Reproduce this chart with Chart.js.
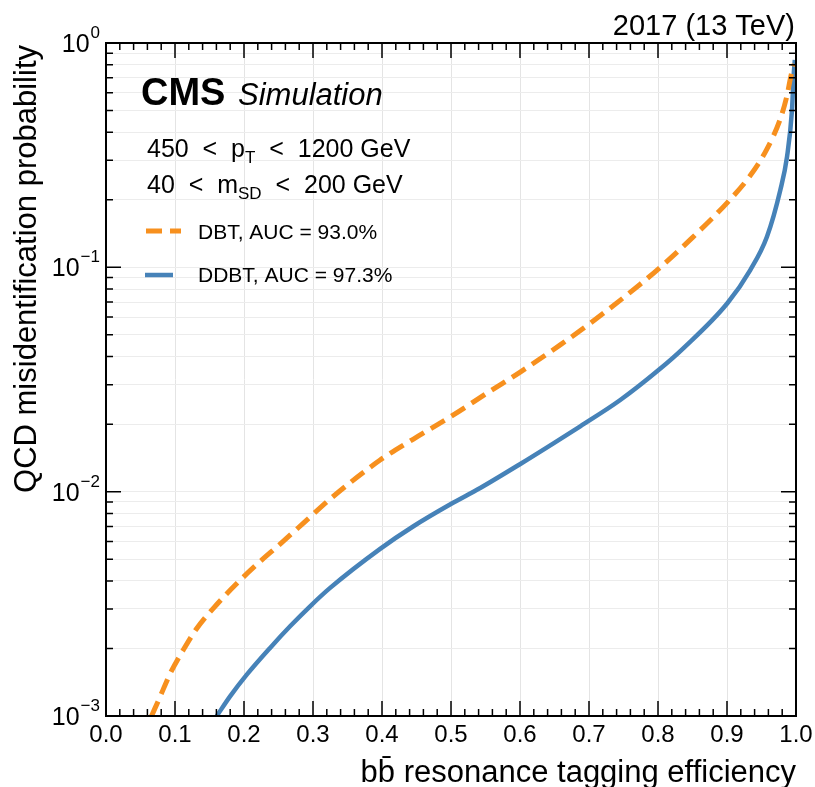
<!DOCTYPE html>
<html>
<head>
<meta charset="utf-8">
<script src="https://cdn.jsdelivr.net/npm/chart.js@4"></script>
<style>
  html, body { margin: 0; padding: 0; background: #fff; }
  #wrap { width: 815px; height: 787px; }
</style>
</head>
<body>
<div id="wrap"><canvas id="roc" width="815" height="787"></canvas></div>
<script>
// Values
const dbtEff = [0.066, 0.0783, 0.0928, 0.1121, 0.1315, 0.1605, 0.1895, 0.2185, 0.2523, 0.2861, 0.3248, 0.3973, 0.4456, 0.4998, 0.5568, 0.6003, 0.6583, 0.7018, 0.7743, 0.8033, 0.8468, 0.9008, 0.9337, 0.958, 0.9773, 0.987, 0.9928, 0.9975];
const dbtMis = [0.00100, 0.001217, 0.001541, 0.001972, 0.002455, 0.003141, 0.003896, 0.004735, 0.005842, 0.00724, 0.009268, 0.01383, 0.01716, 0.02162, 0.02808, 0.03413, 0.04512, 0.05633, 0.0841, 0.1001, 0.1329, 0.1949, 0.2566, 0.3375, 0.4592, 0.584, 0.7167, 0.806];

const ddbtEff = [0.1605, 0.1798, 0.204, 0.2378, 0.2668, 0.2958, 0.3248, 0.3973, 0.4456, 0.4998, 0.5423, 0.5993, 0.6485, 0.6873, 0.7453, 0.8008, 0.837, 0.9008, 0.9337, 0.9579, 0.9773, 0.987, 0.9942, 0.9965, 0.9983];
const ddbtMis = [0.00100, 0.001223, 0.001528, 0.002012, 0.002511, 0.003084, 0.003724, 0.005559, 0.007012, 0.008806, 0.01038, 0.01322, 0.01642, 0.01956, 0.02562, 0.03484, 0.04367, 0.06934, 0.09727, 0.1369, 0.2212, 0.3112, 0.5027, 0.7077, 0.84];

const xTickLabels = ["0.0", "0.1", "0.2", "0.3", "0.4", "0.5", "0.6", "0.7", "0.8", "0.9", "1.0"];
const yTickExps = [0, -1, -2, -3];
const legendLabels = ["DBT, AUC = 93.0%", "DDBT, AUC = 97.3%"];

const ORANGE = "#f7901e";
const BLUE = "#4682b8";
const FONT = "'Liberation Sans', Arial, sans-serif";

function pts(xs, ys) {
  return xs.map((x, i) => ({ x: x, y: ys[i] }));
}

// all 1..9 x 10^k values for the log grid
const yGrid = [];
for (let k = -3; k <= 0; k++) {
  for (let m = 1; m <= 9; m++) {
    const v = m * Math.pow(10, k);
    if (v <= 1.0000001) yGrid.push(v);
  }
}

const decor = {
  id: "decor",
  afterDraw(chart) {
    const ctx = chart.ctx;
    const a = chart.chartArea;
    const xs = chart.scales.x;
    const ys = chart.scales.y;
    ctx.save();

    // frame
    ctx.strokeStyle = "#000";
    ctx.lineWidth = 2;
    ctx.strokeRect(a.left, a.top, a.right - a.left, a.bottom - a.top);

    // inward ticks
    ctx.lineWidth = 1.5;
    ctx.beginPath();
    for (let i = 0; i <= 50; i++) {
      const v = i / 50;
      const px = xs.getPixelForValue(v);
      const len = i % 5 === 0 ? 15 : 7;
      ctx.moveTo(px, a.bottom); ctx.lineTo(px, a.bottom - len);
      ctx.moveTo(px, a.top); ctx.lineTo(px, a.top + len);
    }
    yGrid.forEach((v) => {
      const py = ys.getPixelForValue(v);
      const major = Math.abs(Math.log10(v) - Math.round(Math.log10(v))) < 1e-6;
      const len = major ? 15 : 7;
      ctx.moveTo(a.left, py); ctx.lineTo(a.left + len, py);
      ctx.moveTo(a.right, py); ctx.lineTo(a.right - len, py);
    });
    ctx.stroke();

    ctx.fillStyle = "#000";

    // x tick labels
    ctx.font = "24px " + FONT;
    ctx.textAlign = "center";
    ctx.textBaseline = "alphabetic";
    xTickLabels.forEach((t, i) => {
      ctx.fillText(t, xs.getPixelForValue(i / 10), a.bottom + 26);
    });

    // y tick labels 10^k
    yTickExps.forEach((e) => {
      const py = ys.getPixelForValue(Math.pow(10, e));
      const exp = e === 0 ? "0" : "\u2212" + Math.abs(e);
      ctx.font = "17px " + FONT;
      const ew = ctx.measureText(exp).width;
      ctx.textAlign = "left";
      const right = 100;
      ctx.fillText(exp, right - ew, py - 5);
      ctx.font = "25px " + FONT;
      ctx.textAlign = "right";
      ctx.fillText("10", right - ew - 1, py + 9);
    });

    // axis titles
    ctx.font = "31px " + FONT;
    ctx.textAlign = "right";
    ctx.fillText("b\u0062\u0304 resonance tagging efficiency", a.right, 782);
    ctx.save();
    ctx.translate(36, a.top + 2);
    ctx.rotate(-Math.PI / 2);
    ctx.fillText("QCD misidentification probability", 0, 0);
    ctx.restore();

    ctx.font = "29px " + FONT;
    ctx.fillText("2017 (13 TeV)", a.right - 1, 35);

    // CMS label
    ctx.textAlign = "left";
    ctx.font = "bold 38px " + FONT;
    ctx.fillText("CMS", 141, 105);
    ctx.font = "italic 31px " + FONT;
    ctx.fillText("Simulation", 238, 105);

    // kinematic selection lines
    function seq(parts, x, y) {
      parts.forEach((p) => {
        ctx.font = p.size + "px " + FONT;
        ctx.fillText(p.t, x, y + (p.dy || 0));
        x += ctx.measureText(p.t).width;
      });
    }
    seq([
      { t: "450  <  p", size: 25 },
      { t: "T", size: 17, dy: 6 },
      { t: "  <  1200 GeV", size: 25 }
    ], 147, 157);
    seq([
      { t: "40  <  m", size: 25 },
      { t: "SD", size: 17, dy: 6 },
      { t: "  <  200 GeV", size: 25 }
    ], 147, 193);

    // legend
    ctx.lineCap = "butt";
    ctx.lineWidth = 5;
    ctx.strokeStyle = ORANGE;
    ctx.setLineDash([16, 8]);
    ctx.beginPath(); ctx.moveTo(146, 231); ctx.lineTo(181, 231); ctx.stroke();
    ctx.setLineDash([]);
    ctx.lineWidth = 4.5;
    ctx.strokeStyle = BLUE;
    ctx.beginPath(); ctx.moveTo(145, 275); ctx.lineTo(173, 275); ctx.stroke();
    ctx.font = "21px " + FONT;
    ctx.fillText(legendLabels[0], 198, 239);
    ctx.fillText(legendLabels[1], 198, 282);

    ctx.restore();
  }
};

new Chart(document.getElementById("roc"), {
  type: "line",
  data: {
    datasets: [
      {
        label: legendLabels[0],
        data: pts(dbtEff, dbtMis),
        borderColor: ORANGE,
        borderWidth: 5,
        borderDash: [16, 8],
        pointRadius: 0,
        cubicInterpolationMode: "monotone",
        fill: false
      },
      {
        label: legendLabels[1],
        data: pts(ddbtEff, ddbtMis),
        borderColor: BLUE,
        borderWidth: 4.5,
        pointRadius: 0,
        cubicInterpolationMode: "monotone",
        fill: false
      }
    ]
  },
  options: {
    responsive: false,
    animation: false,
    layout: { padding: { left: 106, right: 19, top: 43, bottom: 71 } },
    plugins: { legend: { display: false }, tooltip: { enabled: false } },
    scales: {
      x: {
        type: "linear",
        min: 0,
        max: 1,
        ticks: { display: false, stepSize: 0.1 },
        grid: { color: "#e4e4e4", lineWidth: 1, drawTicks: false },
        border: { display: false }
      },
      y: {
        type: "logarithmic",
        min: 0.001,
        max: 1,
        afterBuildTicks: (scale) => {
          scale.ticks = yGrid.map((v) => ({ value: v }));
        },
        ticks: { display: false },
        grid: { color: "#ececec", lineWidth: 1, drawTicks: false },
        border: { display: false }
      }
    }
  },
  plugins: [decor]
});
</script>
</body>
</html>
